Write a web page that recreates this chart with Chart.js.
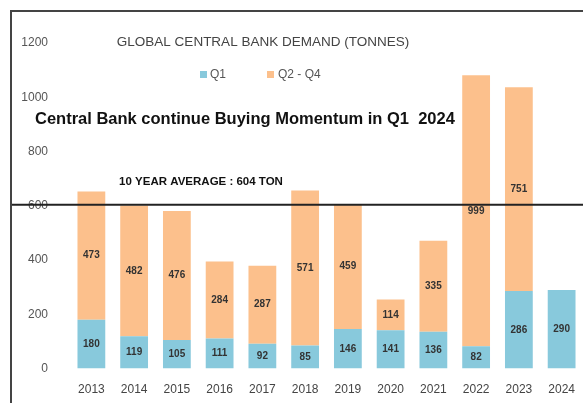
<!DOCTYPE html>
<html>
<head>
<meta charset="utf-8">
<script src="https://cdn.jsdelivr.net/npm/chart.js@4"></script>
<style>
  html, body { margin: 0; padding: 0; background: #fff; }
  #wrap { width: 583px; height: 403px; }
</style>
</head>
<body>
<div id="wrap"><canvas id="gold-chart"></canvas></div>
<script>
// Demanda dos bancos centrais (toneladas)
const years = ['2013', '2014', '2015', '2016', '2017', '2018', '2019', '2020', '2021', '2022', '2023', '2024'];
const q1 = [180, 119, 105, 111, 92, 85, 146, 141, 136, 82, 286, 290];
const q2q4 = [473, 482, 476, 284, 287, 571, 459, 114, 335, 999, 751, null];
const yTicks = [0, 200, 400, 600, 800, 1000, 1200];
const averageTon = 604;

const blue = '#88c9dc';
const orange = '#fcc08c';
const fontFamily = '"Liberation Sans", Arial, sans-serif';

// Textos, legenda, linha de média e moldura
const overlayPlugin = {
    id: 'overlay',
    afterDatasetsDraw(chart) {
        const ctx = chart.ctx;
        const y = chart.scales.y;
        const x = chart.scales.x;

        // Rótulos dentro das barras
        ctx.save();
        ctx.font = 'bold 10px ' + fontFamily;
        ctx.fillStyle = '#333';
        ctx.textAlign = 'center';
        ctx.textBaseline = 'middle';
        years.forEach((yr, i) => {
            const cx = x.getPixelForValue(i);
            ctx.fillText(String(q1[i]), cx, y.getPixelForValue(q1[i] / 2));
            if (q2q4[i] != null) {
                ctx.fillText(String(q2q4[i]), cx, y.getPixelForValue(q1[i] + q2q4[i] / 2));
            }
        });

        // Linha da média de 10 anos
        const ay = y.getPixelForValue(averageTon);
        ctx.strokeStyle = '#222';
        ctx.lineWidth = 2;
        ctx.beginPath();
        ctx.moveTo(12, ay);
        ctx.lineTo(chart.width, ay);
        ctx.stroke();

        ctx.font = 'bold 11.5px ' + fontFamily;
        ctx.fillStyle = '#111';
        ctx.fillText('10 YEAR AVERAGE : ' + averageTon + ' TON', 201, 182);

        // Título
        ctx.font = '13.5px ' + fontFamily;
        ctx.fillStyle = '#444';
        ctx.fillText('GLOBAL CENTRAL BANK DEMAND (TONNES)', 263, 42);

        // Legenda
        ctx.font = '12px ' + fontFamily;
        ctx.textAlign = 'left';
        ctx.fillStyle = blue;
        ctx.fillRect(200, 71, 7, 7);
        ctx.fillStyle = '#555';
        ctx.fillText('Q1', 210, 75);
        ctx.fillStyle = orange;
        ctx.fillRect(267, 71, 7, 7);
        ctx.fillStyle = '#555';
        ctx.fillText('Q2 - Q4', 278, 75);

        // Subtítulo
        ctx.font = 'bold 16.5px ' + fontFamily;
        ctx.fillStyle = '#111';
        ctx.fillText('Central Bank continue Buying Momentum in Q1  2024', 35, 119);

        // Moldura
        ctx.strokeStyle = '#444';
        ctx.lineWidth = 2;
        ctx.beginPath();
        ctx.moveTo(11, chart.height);
        ctx.lineTo(11, 11);
        ctx.lineTo(chart.width, 11);
        ctx.stroke();
        ctx.restore();
    }
};

const chartData = {
    labels: years,
    datasets: [
        { label: 'Q1', data: q1, backgroundColor: blue, barPercentage: 0.65, categoryPercentage: 1 },
        { label: 'Q2 - Q4', data: q2q4, backgroundColor: orange, barPercentage: 0.65, categoryPercentage: 1 }
    ]
};

new Chart(document.getElementById('gold-chart'), {
    type: 'bar',
    data: chartData,
    plugins: [overlayPlugin],
    options: {
        responsive: true,
        maintainAspectRatio: false,
        animation: false,
        layout: { padding: { top: 43, left: 12, right: 0, bottom: 0 } },
        plugins: {
            legend: { display: false },
            tooltip: { enabled: false }
        },
        scales: {
            x: {
                stacked: true,
                grid: { display: false },
                border: { display: false },
                ticks: {
                    color: '#444',
                    font: { size: 12, family: fontFamily },
                    padding: 6,
                    maxRotation: 0
                }
            },
            y: {
                stacked: true,
                min: 0,
                max: 1200,
                afterFit(scale) { scale.width = 58; },
                afterBuildTicks(scale) { scale.ticks = yTicks.map(v => ({ value: v })); },
                grid: { display: false },
                border: { display: false },
                ticks: {
                    color: '#555',
                    font: { size: 12, family: fontFamily },
                    padding: 14,
                    callback: v => String(v)
                }
            }
        }
    }
});
</script>
</body>
</html>
